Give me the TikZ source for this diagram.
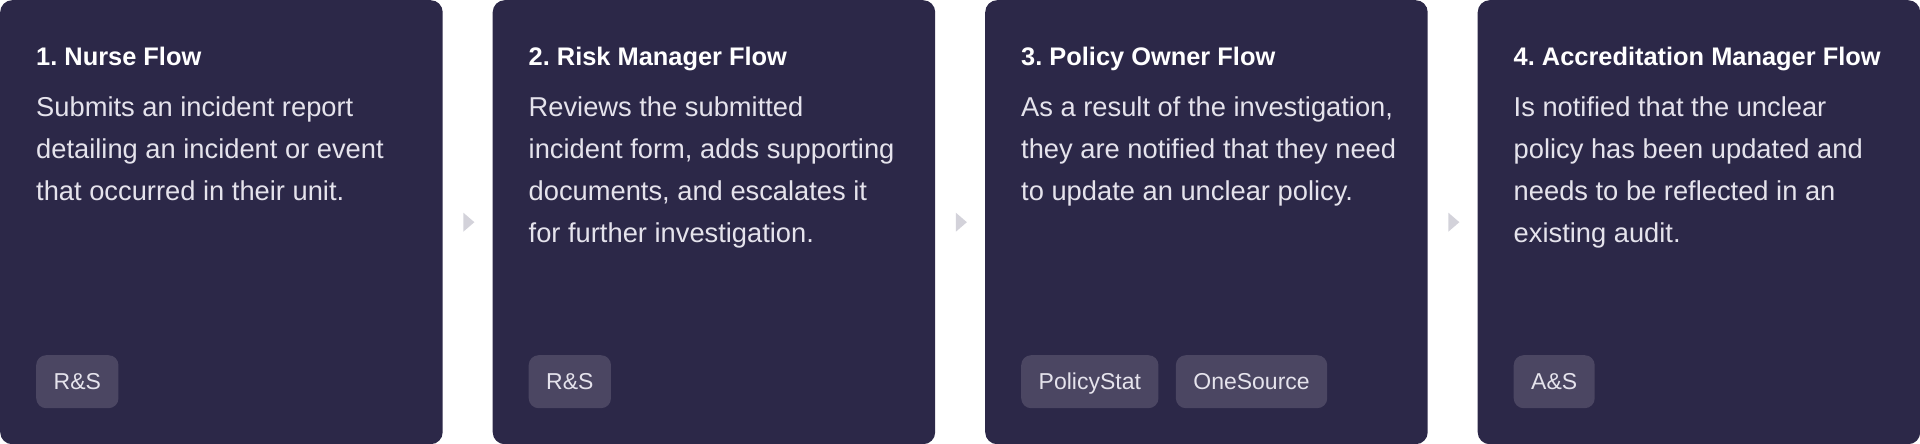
\documentclass[tikz,border=0pt]{standalone}
\usepackage{fontspec}
\setmainfont{Liberation Sans}
\usetikzlibrary{positioning,calc,shapes.geometric}
\definecolor{cardbg}{HTML}{2C2848}
\definecolor{tagbg}{HTML}{4B4662}
\definecolor{bodytxt}{HTML}{E5E3EC}
\definecolor{pointergrey}{HTML}{D3D2DA}
\frenchspacing
\newcommand{\cardlines}[1]{\parbox[t]{400pt}{\raggedright #1}}
\tikzset{
  card/.style={fill=cardbg, rounded corners=12pt, minimum width=442.5pt,
    minimum height=444pt, inner sep=0pt, anchor=north west},
  cardtitle/.style={anchor=base west, inner sep=0pt, text=white,
    font=\fontsize{25.4}{30}\selectfont\bfseries},
  cardbody/.style={anchor=base west, inner sep=0pt, text=bodytxt,
    font=\fontsize{27.3}{42}\selectfont},
  tag/.style={fill=tagbg, rounded corners=10pt, minimum height=53pt,
    inner xsep=17.5pt, inner ysep=0pt, text height=16.5pt, text depth=0pt,
    text=bodytxt, font=\fontsize{23}{26}\selectfont, anchor=north west},
  pointer/.style={isosceles triangle, isosceles triangle stretches,
    fill=pointergrey, minimum width=19pt, minimum height=11pt, inner sep=0pt}
}
\begin{document}
\begin{tikzpicture}[x=1pt,y=-1pt]
  \useasboundingbox (0,0) rectangle (1920,444);
  % cards
  \node[card] (nurse) at (0,0) {};
  \node[card] (risk) at (492.5,0) {};
  \node[card] (owner) at (985,0) {};
  \node[card] (accred) at (1477.5,0) {};
  % titles
  \node[cardtitle] (nurseT) at (36,66) {1. Nurse Flow};
  \node[cardtitle] (riskT) at (528.5,66) {2. Risk Manager Flow};
  \node[cardtitle] (ownerT) at (1021,66) {3. Policy Owner Flow};
  \node[cardtitle] (accredT) at (1513.5,66) {4. Accreditation Manager Flow};
  % text
  \node[cardbody] (nurseB) at (36,117) {\cardlines{Submits an incident report\\detailing an incident or event\\that occurred in their unit.}};
  \node[cardbody] (riskB) at (528.5,117) {\cardlines{Reviews the submitted\\incident form, adds supporting\\documents, and escalates it\\for further investigation.}};
  \node[cardbody] (ownerB) at (1021,117) {\cardlines{As a result of the investigation,\\they are notified that they need\\to update an unclear policy.}};
  \node[cardbody] (accredB) at (1513.5,117) {\cardlines{Is notified that the unclear\\policy has been updated and\\needs to be reflected in an\\existing audit.}};
  % tags
  \node[tag] (nurseRS) at (36,355) {R\&S};
  \node[tag] (riskRS) at (528.5,355) {R\&S};
  \node[tag] (ownerPS) at (1021,355) {PolicyStat};
  \node[tag, right=17pt of ownerPS.north east, anchor=north west] (ownerOS) {OneSource};
  \node[tag] (accredAS) at (1513.5,355) {A\&S};
  % pointers between cards
  \node[pointer] (p1) at ($(nurse.east)!0.5!(risk.west)$) {};
  \node[pointer] (p2) at ($(risk.east)!0.5!(owner.west)$) {};
  \node[pointer] (p3) at ($(owner.east)!0.5!(accred.west)$) {};
\end{tikzpicture}
\end{document}
